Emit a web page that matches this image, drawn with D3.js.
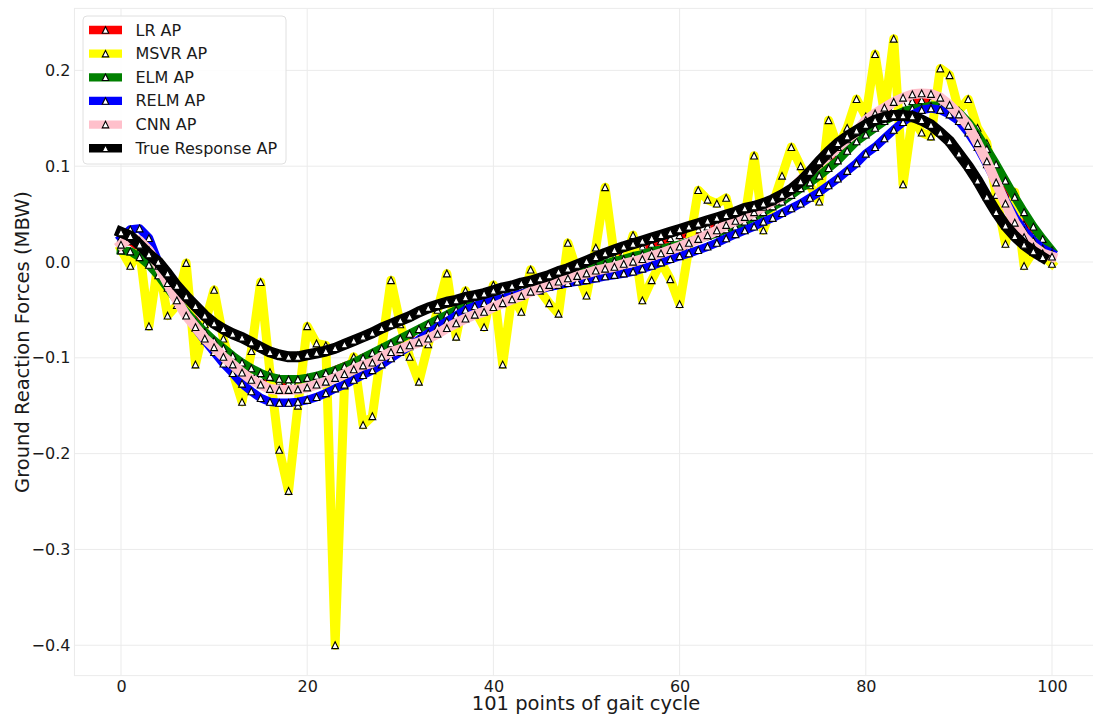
<!DOCTYPE html>
<html><head><meta charset="utf-8">
<script src="https://cdn.jsdelivr.net/npm/d3@7"></script>
<style>body{margin:0;background:#fff} svg{display:block;font-family:"DejaVu Sans",sans-serif}</style>
</head><body><svg id="c" width="1093" height="716"></svg>
<script>
const xTicks=[0,20,40,60,80,100];
const yTicks=[-0.4,-0.3,-0.2,-0.1,0.0,0.1,0.2];
const seriesNames=["LR AP","MSVR AP","ELM AP","RELM AP","CNN AP","True Response AP"];
const seriesColors=["#ff0000","#ffff00","#008000","#0000ff","#ffc0cb","#000000"];

const lrAP=[0.020,0.022,0.015,0.005,-0.008,-0.022,-0.036,-0.050,-0.062,-0.074,
 -0.084,-0.094,-0.102,-0.109,-0.115,-0.120,-0.123,-0.125,-0.126,-0.125,
 -0.123,-0.120,-0.117,-0.113,-0.109,-0.105,-0.100,-0.096,-0.091,-0.086,
 -0.081,-0.076,-0.071,-0.066,-0.061,-0.056,-0.052,-0.048,-0.044,-0.040,
 -0.037,-0.034,-0.031,-0.028,-0.025,-0.020,-0.016,-0.012,-0.009,-0.006,
 -0.003,0.001,0.004,0.007,0.010,0.013,0.016,0.019,0.022,0.025,
 0.028,0.031,0.034,0.037,0.040,0.043,0.047,0.050,0.054,0.058,
 0.063,0.068,0.074,0.081,0.088,0.096,0.105,0.114,0.123,0.132,
 0.141,0.148,0.155,0.161,0.165,0.168,0.169,0.168,0.165,0.159,
 0.150,0.138,0.123,0.106,0.088,0.070,0.054,0.039,0.027,0.017,
 0.009];
const msvrAP=[0.013,-0.004,0.012,-0.067,0.000,-0.056,-0.045,-0.001,-0.107,-0.065,
 -0.029,-0.080,-0.115,-0.146,-0.093,-0.021,-0.115,-0.196,-0.239,-0.150,
 -0.067,-0.085,-0.087,-0.400,-0.129,-0.099,-0.170,-0.161,-0.090,-0.019,
 -0.065,-0.099,-0.125,-0.086,-0.050,-0.012,-0.078,-0.030,-0.050,-0.068,
 -0.024,-0.107,-0.035,-0.052,-0.008,-0.030,-0.043,-0.054,0.020,-0.010,
 -0.035,0.015,0.078,0.005,-0.005,0.028,-0.040,-0.019,0.000,-0.018,
 -0.044,0.015,0.075,0.065,0.061,0.067,0.030,0.045,0.111,0.033,
 0.060,0.090,0.120,0.100,0.080,0.063,0.148,0.120,0.140,0.170,
 0.152,0.217,0.155,0.233,0.081,0.150,0.135,0.131,0.202,0.195,
 0.158,0.170,0.140,0.124,0.070,0.019,0.073,-0.004,0.011,0.007,
 -0.002];
const elmAP=[0.012,0.011,0.005,-0.003,-0.014,-0.027,-0.040,-0.052,-0.063,-0.073,
 -0.082,-0.090,-0.098,-0.105,-0.111,-0.116,-0.120,-0.122,-0.1225,-0.1225,
 -0.121,-0.119,-0.116,-0.113,-0.109,-0.105,-0.100,-0.095,-0.090,-0.085,
 -0.080,-0.075,-0.070,-0.065,-0.060,-0.055,-0.050,-0.046,-0.042,-0.038,
 -0.035,-0.032,-0.029,-0.026,-0.024,-0.021,-0.018,-0.016,-0.013,-0.010,
 -0.008,-0.005,-0.002,0.001,0.003,0.006,0.008,0.011,0.013,0.016,
 0.018,0.021,0.024,0.027,0.030,0.034,0.037,0.042,0.047,0.052,
 0.058,0.063,0.070,0.077,0.083,0.090,0.098,0.106,0.116,0.126,
 0.133,0.140,0.147,0.153,0.157,0.160,0.161,0.163,0.163,0.161,
 0.156,0.146,0.133,0.118,0.102,0.085,0.068,0.052,0.037,0.024,
 0.012];
const relmAP=[0.025,0.034,0.035,0.025,0.000,-0.020,-0.040,-0.055,-0.069,-0.082,
 -0.094,-0.106,-0.116,-0.127,-0.135,-0.142,-0.146,-0.147,-0.147,-0.146,
 -0.144,-0.141,-0.137,-0.132,-0.128,-0.123,-0.118,-0.113,-0.107,-0.1005,
 -0.094,-0.088,-0.081,-0.0745,-0.068,-0.062,-0.056,-0.050,-0.046,-0.043,
 -0.040,-0.038,-0.0355,-0.033,-0.031,-0.0285,-0.026,-0.024,-0.022,-0.0205,
 -0.019,-0.017,-0.015,-0.0135,-0.012,-0.010,-0.007,-0.004,-0.0005,0.003,
 0.006,0.009,0.0125,0.016,0.020,0.0247,0.029,0.033,0.037,0.042,
 0.046,0.051,0.056,0.061,0.067,0.073,0.080,0.087,0.095,0.103,
 0.113,0.120,0.129,0.138,0.146,0.154,0.1587,0.1604,0.1587,0.154,
 0.147,0.135,0.120,0.102,0.083,0.064,0.047,0.033,0.022,0.014,
 0.009];
const cnnAP=[0.018,0.026,0.022,0.012,-0.004,-0.022,-0.040,-0.056,-0.068,-0.080,
 -0.089,-0.099,-0.107,-0.1155,-0.123,-0.128,-0.1325,-0.1336,-0.1336,-0.133,
 -0.131,-0.128,-0.125,-0.121,-0.117,-0.112,-0.108,-0.105,-0.099,-0.094,
 -0.091,-0.087,-0.084,-0.080,-0.075,-0.069,-0.064,-0.059,-0.055,-0.052,
 -0.047,-0.043,-0.039,-0.0355,-0.031,-0.0275,-0.024,-0.0205,-0.017,-0.0146,
 -0.012,-0.009,-0.007,-0.005,-0.002,0.0003,0.003,0.0063,0.009,0.0125,
 0.016,0.020,0.024,0.028,0.033,0.0386,0.043,0.047,0.052,0.0577,
 0.063,0.068,0.076,0.0856,0.094,0.103,0.111,0.120,0.128,0.136,
 0.148,0.155,0.161,0.167,0.1715,0.175,0.176,0.1754,0.1715,0.164,
 0.154,0.142,0.124,0.105,0.083,0.061,0.041,0.026,0.016,0.009,
 0.0056];
const trueAP=[0.031,0.027,0.018,0.008,0.000,-0.012,-0.025,-0.036,-0.046,-0.056,
 -0.064,-0.070,-0.075,-0.079,-0.084,-0.089,-0.094,-0.097,-0.099,-0.099,
 -0.097,-0.095,-0.093,-0.090,-0.086,-0.082,-0.078,-0.074,-0.069,-0.065,
 -0.061,-0.057,-0.052,-0.048,-0.045,-0.042,-0.040,-0.037,-0.035,-0.033,
 -0.030,-0.027,-0.025,-0.022,-0.020,-0.017,-0.014,-0.010,-0.007,-0.003,
 0.001,0.005,0.009,0.0125,0.016,0.019,0.022,0.025,0.028,0.031,
 0.034,0.037,0.040,0.043,0.046,0.049,0.052,0.056,0.058,0.061,
 0.065,0.070,0.076,0.084,0.094,0.105,0.115,0.124,0.131,0.137,
 0.143,0.148,0.151,0.153,0.153,0.152,0.148,0.143,0.135,0.126,
 0.113,0.100,0.085,0.068,0.052,0.038,0.027,0.018,0.011,0.005];

const seriesValues=[lrAP,msvrAP,elmAP,relmAP,cnnAP,trueAP];
const seriesWidths=[8.5,9,8.5,8.5,10,11];
const seriesDash=["24,10",null,null,null,null,null];

const svg=d3.select("#c");
const x=d3.scaleLinear().domain([-5,105]).range([74.45,1098.55]);
const y=d3.scaleLinear().domain([-0.4317,0.2647]).range([675.6,8.4]);
const [x0,x1]=x.range(), [y0,y1]=[y.range()[1],y.range()[0]];

svg.append("defs").append("clipPath").attr("id","clip")
  .append("rect").attr("x",x0).attr("y",y0).attr("width",x1-x0).attr("height",y1-y0);

// grid
const grid=svg.append("g");
grid.selectAll(".gx").data(xTicks).join("line")
  .attr("x1",d=>x(d)).attr("x2",d=>x(d)).attr("y1",y0).attr("y2",y1)
  .attr("stroke","#ebebeb").attr("stroke-width",1);
grid.selectAll(".gy").data(yTicks).join("line")
  .attr("x1",x0).attr("x2",x1).attr("y1",d=>y(d)).attr("y2",d=>y(d))
  .attr("stroke","#ebebeb").attr("stroke-width",1);
svg.append("rect").attr("x",x0).attr("y",y0).attr("width",x1-x0).attr("height",y1-y0)
  .attr("fill","none").attr("stroke","#ebebeb").attr("stroke-width",1);

// axes tick labels
const xAxis=d3.axisBottom(x).tickValues(xTicks).tickSize(0).tickPadding(0).tickFormat(d3.format("d"));
const gx=svg.append("g").attr("transform",`translate(0,${y1})`).call(xAxis);
gx.select(".domain").remove();
gx.selectAll("text").attr("dy",null).attr("y",4).attr("font-size",16).attr("fill","#1a1a1a")
  .attr("font-family","DejaVu Sans").attr("dominant-baseline","hanging");
const yAxis=d3.axisLeft(y).tickValues(yTicks).tickSize(0).tickPadding(0)
  .tickFormat(d=>d3.format(".1f")(d).replace("-","\u2212"));
const gy=svg.append("g").attr("transform",`translate(${x0-4},0)`).call(yAxis);
gy.select(".domain").remove();
gy.selectAll("text").attr("font-size",16).attr("fill","#1a1a1a").attr("font-family","DejaVu Sans");

svg.append("text").attr("x",(x0+x1)/2-0.5).attr("y",710).attr("text-anchor","middle")
  .attr("font-size",19.5).attr("fill","#1a1a1a").text("101 points of gait cycle");
svg.append("text").attr("transform",`translate(29,${(y0+y1)/2}) rotate(-90)`).attr("text-anchor","middle")
  .attr("font-size",19.5).attr("fill","#1a1a1a").text("Ground Reaction Forces (MBW)");

// series
const tri=(s)=>`M0,${-s/2}L${-s/2},${s/2}L${s/2},${s/2}Z`;
const plot=svg.append("g").attr("clip-path","url(#clip)");
seriesValues.forEach((vals,i)=>{
  const pts=vals.map((v,k)=>[k,v]);
  const line=d3.line().x(d=>x(d[0])).y(d=>y(d[1]));
  const p=plot.append("path").attr("d",line(pts)).attr("fill","none")
    .attr("stroke",seriesColors[i]).attr("stroke-width",seriesWidths[i])
    .attr("stroke-linejoin","round").attr("stroke-linecap",seriesDash[i]?"butt":"square");
  if(seriesDash[i]) p.attr("stroke-dasharray",seriesDash[i]);
  plot.append("g").selectAll("path").data(pts).join("path")
    .attr("transform",d=>`translate(${x(d[0])},${y(d[1])})`)
    .attr("d",tri(6.8)).attr("fill","#fff").attr("stroke","#000").attr("stroke-width",1.1);
});

// legend
const lg=svg.append("g");
lg.append("rect").attr("x",83).attr("y",16).attr("width",203).attr("height",148).attr("rx",4)
  .attr("fill","#fff").attr("fill-opacity",0.85).attr("stroke","#e0e0e0").attr("stroke-width",1);
seriesNames.forEach((n,i)=>{
  const cy=30+i*23.65;
  lg.append("line").attr("x1",89).attr("x2",122).attr("y1",cy).attr("y2",cy)
    .attr("stroke",seriesColors[i]).attr("stroke-width",8.3);
  lg.append("path").attr("transform",`translate(105.5,${cy})`).attr("d",tri(6.5))
    .attr("fill","#fff").attr("stroke","#000").attr("stroke-width",1.1);
  lg.append("text").attr("x",135.5).attr("y",cy).attr("dominant-baseline","central")
    .attr("font-size",16).attr("fill","#1a1a1a").text(n);
});
</script></body></html>
